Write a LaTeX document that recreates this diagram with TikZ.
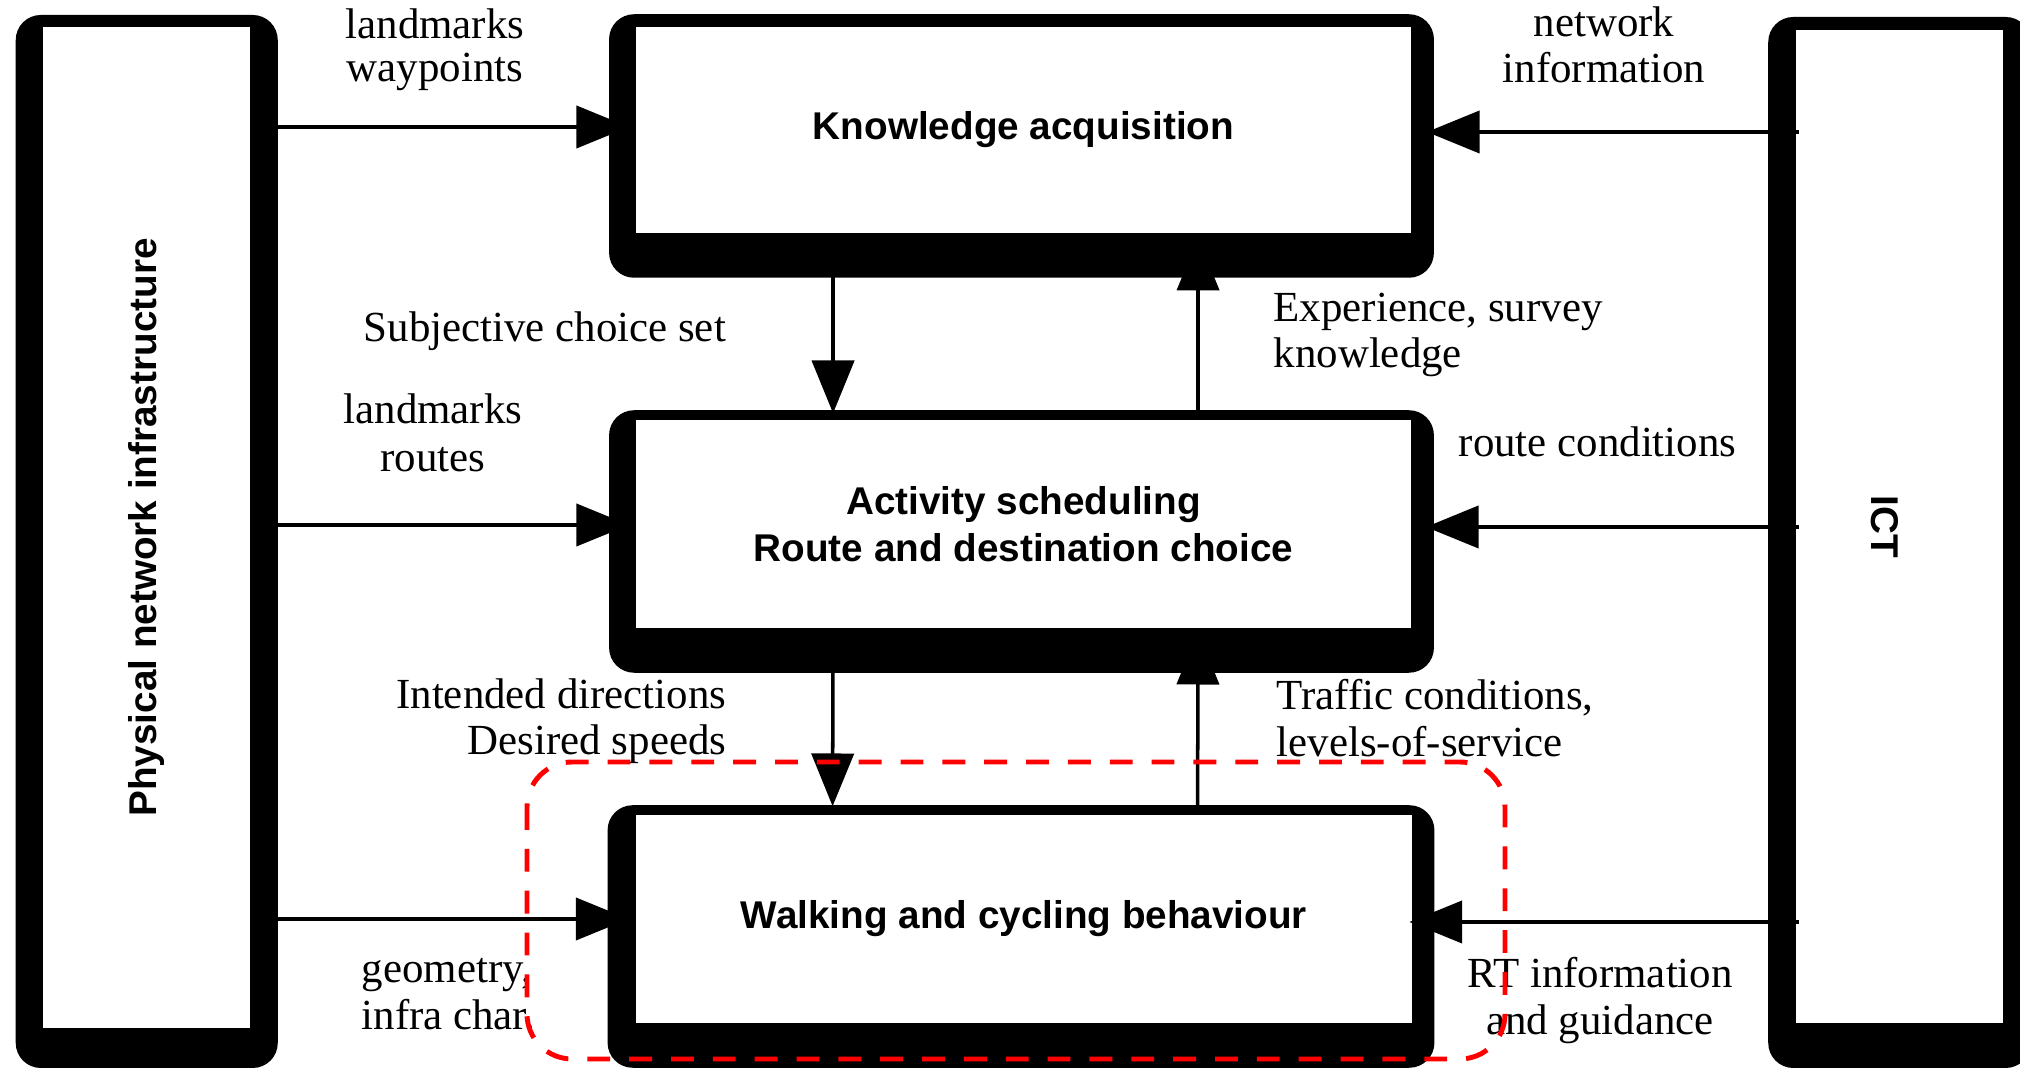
\documentclass[tikz,border=0pt]{standalone}
\usepackage{fontspec}
\setmainfont{Liberation Serif}
\newfontfamily\boxfont{Liberation Sans}
\usetikzlibrary{arrows.meta,calc,backgrounds}
\begin{document}
\begin{tikzpicture}[x=0.01cm,y=-0.01cm,
  inbox/.style={fill=white, inner sep=0pt, align=center,
    font=\boxfont\bfseries\fontsize{11}{13.3}\selectfont},
  rotlbl/.style={inner sep=0pt, font=\boxfont\bfseries\fontsize{11}{13.3}\selectfont},
  outbox/.style={fill=black, rounded corners=0.25cm},
  arr/.style={line width=1pt, -{Triangle[length=15pt,width=12pt]}},
  lbl/.style={inner sep=0pt, font=\fontsize{12.2}{14}\selectfont},
  fence/.style={draw=red, line width=1.4pt, dash pattern=on 6.5pt off 5.4pt, rounded corners=0.45cm}]

\useasboundingbox (0,0) rectangle (2020,1068);

% inner white boxes
\node[inbox, minimum width=7.75cm, minimum height=2.06cm] (K) at (1023.5,130) {Knowledge acquisition};
\node[inbox, minimum width=7.75cm, minimum height=2.08cm] (A) at (1023.5,524) {Activity scheduling\\Route and destination choice};
\node[inbox, minimum width=7.75cm, minimum height=2.08cm] (W) at (1024,919) {Walking and cycling behaviour};
\node[inbox, minimum width=2.07cm, minimum height=10.01cm] (L) at (146.5,527.5) {};
\node[inbox, minimum width=2.07cm, minimum height=9.93cm] (I) at (1899.5,526.5) {};
\node[rotlbl, rotate=90] (Ltext) at (L.center) {Physical network infrastructure};
\node[rotlbl, rotate=-90] (Itext) at (1885,526.5) {ICT};

% black frames behind
\begin{scope}[on background layer]
\fill[outbox] ($(K.north west)+(-26,-12)$) rectangle ($(K.south east)+(22,44)$);
\fill[outbox] ($(A.north west)+(-26,-9)$) rectangle ($(A.south east)+(22,44)$);
\fill[outbox] ($(W.north west)+(-28,-9)$) rectangle ($(W.south east)+(22,44)$);
\fill[outbox] ($(L.north west)+(-26.5,-11)$) rectangle ($(L.south east)+(27,39)$);
\fill[outbox] ($(I.north west)+(-27,-12)$) rectangle ($(I.south east)+(27,44)$);
\end{scope}

% horizontal arrows from the side boxes
\draw[arr] ($(L.east|-K.west)+(4,-3)$) -- ($(K.west)+(-6,-3)$);
\draw[arr] ($(L.east|-A.west)+(4,1)$) -- ($(A.west)+(-6,1)$);
\draw[arr] ($(L.east|-W.west)+(4,0)$) -- ($(W.west)+(-7,0)$);
\draw[arr] ($(I.west|-K.east)+(4,2)$) -- ($(K.east)+(15,2)$);
\draw[arr] ($(I.west|-A.east)+(4,3)$) -- ($(A.east)+(14,3)$);
\draw[arr] ($(I.west|-W.east)+(4,3)$) -- ($(W.east)+(-3,3)$);

% vertical arrows
\draw[arr] ($(K.south west)+(198,0)$) -- ($(A.north west)+(198,-6)$);
\draw[arr] ($(A.north west)+(563,-8)$) -- ($(K.south west)+(563,4)$);
\draw[arr] ($(A.south west)+(198,0)$) -- ($(W.north west)+(197,-8)$);
\draw[arr] ($(W.north west)+(562,-9)$) -- ($(A.south west)+(563,3)$);

% labels
\node[lbl, anchor=base] (l1a) at (435,39) {landmarks};
\node[lbl, anchor=base] (l1b) at (435,82) {waypoints};
\node[lbl, anchor=base] (n1a) at (1604,37) {network};
\node[lbl, anchor=base] (n1b) at (1604,83) {information};
\node[lbl, anchor=base west] (scs) at (363,342) {Subjective choice set};
\node[lbl, anchor=base west] (exa) at (1273,322) {Experience, survey};
\node[lbl, anchor=base west] (exb) at (1273,368) {knowledge};
\node[lbl, anchor=base] (l2a) at (433,424) {landmarks};
\node[lbl, anchor=base] (l2b) at (433,472) {routes};
\node[lbl, anchor=base west] (rc) at (1458,457) {route conditions};
\node[lbl, anchor=base east] (ida) at (727,709) {Intended directions};
\node[lbl, anchor=base east] (idb) at (727,755) {Desired speeds};
\node[lbl, anchor=base west] (tca) at (1276,710) {Traffic conditions,};
\node[lbl, anchor=base west] (tcb) at (1276,757) {levels-of-service};
\node[lbl, anchor=base west] (gea) at (361,983) {geometry,};
\node[lbl, anchor=base west] (geb) at (361,1030) {infra char.};
\node[lbl, anchor=base] (rta) at (1600,988) {RT information};
\node[lbl, anchor=base] (rtb) at (1600,1035) {and guidance};

% red dashed fence
\draw[fence] (527,762) rectangle (1505,1059);
\end{tikzpicture}
\end{document}
